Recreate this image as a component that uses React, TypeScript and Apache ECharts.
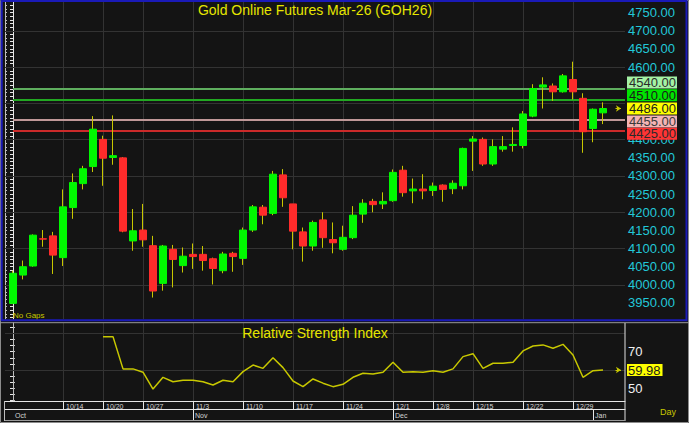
import React, { useEffect, useRef } from "react";
import * as echarts from "echarts";

const dates = [
  "10/7", "10/8", "10/9", "10/10", "10/13", "10/14", "10/15", "10/16", "10/17", "10/20",
  "10/21", "10/22", "10/23", "10/27", "10/28", "10/29", "10/30", "10/31", "11/3", "11/4",
  "11/5", "11/6", "11/7", "11/10", "11/11", "11/12", "11/13", "11/14", "11/17", "11/18",
  "11/19", "11/20", "11/21", "11/24", "11/25", "11/26", "11/27", "11/28", "12/1", "12/2",
  "12/3", "12/4", "12/8", "12/9", "12/10", "12/11", "12/15", "12/16", "12/17", "12/18",
  "12/19", "12/22", "12/23", "12/24", "12/25", "12/26", "12/29", "12/30", "1/2", "1/5",
];

const openP = [
  3949, 4027, 4052, 4127, 4135, 4075, 4213, 4279, 4326, 4401,
  4351, 4350, 4121, 4151, 4108, 4004, 4098, 4053, 4084, 4084,
  4072, 4039, 4087, 4073, 4151, 4214, 4197, 4303, 4223, 4146,
  4107, 4179, 4125, 4098, 4130, 4195, 4230, 4223, 4232, 4316,
  4259, 4264, 4260, 4275, 4265, 4273, 4396, 4401, 4333, 4374,
  4384, 4384, 4465, 4545, 4548, 4532, 4566, 4514, 4431, 4474,
];
const highP = [
  4039, 4067, 4139, 4151, 4146, 4263, 4307, 4328, 4465, 4411,
  4467, 4352, 4209, 4223, 4135, 4110, 4110, 4103, 4114, 4107,
  4075, 4091, 4091, 4158, 4220, 4220, 4314, 4319, 4223, 4158,
  4177, 4200, 4172, 4163, 4217, 4236, 4237, 4255, 4318, 4328,
  4293, 4305, 4282, 4277, 4288, 4378, 4410, 4406, 4401, 4410,
  4434, 4479, 4553, 4572, 4555, 4581, 4615, 4528, 4486, 4503,
];
const lowP = [
  3947, 4015, 4050, 4105, 4030, 4052, 4182, 4263, 4311, 4273,
  4331, 4145, 4094, 4105, 3965, 3984, 3993, 4034, 4044, 4039,
  4001, 4032, 4036, 4055, 4146, 4167, 4192, 4215, 4098, 4064,
  4094, 4102, 4087, 4094, 4126, 4171, 4200, 4209, 4229, 4243,
  4225, 4236, 4245, 4229, 4250, 4263, 4314, 4328, 4328, 4367,
  4367, 4376, 4462, 4486, 4507, 4530, 4511, 4364, 4393, 4443,
];
const closeP = [
  4032, 4050, 4137, 4126, 4082, 4215, 4282, 4320, 4429, 4349,
  4356, 4148, 4149, 4124, 3983, 4107, 4070, 4079, 4078, 4067,
  4045, 4085, 4078, 4151, 4215, 4192, 4305, 4240, 4148, 4107,
  4172, 4130, 4116, 4131, 4192, 4225, 4221, 4230, 4310, 4254,
  4264, 4259, 4272, 4263, 4280, 4376, 4402, 4333, 4381, 4381,
  4387, 4471, 4541, 4551, 4532, 4576, 4532, 4422, 4484, 4486,
];

const rsi = [
  null, null, null, null, null, null, null, null, null, 78.2,
  78.2, 60.6, 60.6, 58.8, 49.6, 56.0, 53.6, 54.4, 54.4, 53.6,
  51.8, 54.4, 53.6, 59.1, 62.7, 60.9, 66.7, 61.3, 54.0, 50.9,
  55.1, 52.8, 50.9, 52.2, 56.0, 58.2, 57.8, 58.8, 64.2, 58.8,
  59.1, 58.8, 59.6, 58.8, 60.6, 67.3, 68.9, 60.9, 63.7, 63.7,
  64.2, 70.4, 73.1, 73.7, 71.9, 74.0, 68.2, 56.0, 59.6, 59.98,
];

// price-axis labels that are visible in the reference (4450/4500/4550 sit under the level boxes)
const priceLabels = [3950, 4000, 4050, 4100, 4150, 4200, 4250, 4300, 4350, 4400, 4600, 4650, 4700, 4750];
const priceGrid = [4000, 4100, 4200, 4300, 4400, 4500, 4600, 4700];
const rsiLabels = [50, 70];
const rsiGrid = [60, 80];
const dateTicks = ["10/14", "10/20", "10/27", "11/3", "11/10", "11/17", "11/24", "12/1", "12/8", "12/15", "12/22", "12/29"];
const monthNames = ["Oct", "Nov", "Dec", "Jan"];
const monthStarts = ["10/7", "11/3", "12/1", "1/2"];
const levelValues = [4540, 4510, 4455, 4425];
const lastPrice = 4486;
const lastRsi = 59.98;

const title = "Gold Online Futures Mar-26 (GOH26)";
const rsiTitle = "Relative Strength Index";

const FONT = 'Arial, "Liberation Sans", Helvetica, sans-serif';

// styles for the level lines (same order as levelValues)
const levelStyles = [
  { line: "#5fae5f", bg: "#a4f2a4", text: "#2a2a2a", shift: -6.4 },
  { line: "#22a822", bg: "#00e400", text: "#1a1a1a", shift: -4.5 },
  { line: "#c09898", bg: "#f4b4b4", text: "#3a3a3a", shift: 1.8 },
  { line: "#cc2a2a", bg: "#ff3434", text: "#2a2a2a", shift: 3.2 },
];

const X_MIN = -0.8;
const X_MAX = 61.2;
const CLEAR = "rgba(0,0,0,0)";

function boxLabel(txt: string, bg: string, color: string, shift: number) {
  const s = Math.abs(shift) * 2;
  let fmt = "{a|" + txt + "}";
  if (shift < 0) fmt = "{a|" + txt + "}\n{s| }";
  if (shift > 0) fmt = "{s| }\n{a|" + txt + "}";
  return {
    show: true,
    position: "end",
    distance: 2,
    opacity: 1,
    formatter: fmt,
    rich: {
      a: {
        backgroundColor: bg,
        color,
        fontSize: 13,
        fontFamily: FONT,
        lineHeight: 12,
        height: 12,
        padding: [0, 1, 0, 2],
      },
      s: { fontSize: 1, height: s, lineHeight: s },
    },
  };
}

export default function App() {
  const ref = useRef<HTMLDivElement>(null);

  useEffect(() => {
    if (!ref.current) return;
    const chart = echarts.init(ref.current, undefined, { renderer: "svg" });

    const tickIdx = dateTicks.map((d) => dates.indexOf(d));
    const monthIdx = monthStarts.map((d) => dates.indexOf(d));
    const priceTicks: number[] = [];
    for (let v = 3910; v <= 4770; v += 10) priceTicks.push(v);
    const rsiTicks: number[] = [];
    for (let k = 0; k < 13; k++) rsiTicks.push(Math.round((43.34 + k * (10 / 3)) * 100) / 100);

    const wickData = dates.map((_, i) => [i, openP[i], closeP[i], lowP[i], highP[i]]);
    const bodyData = dates.map((_, i) => [
      i,
      openP[i],
      closeP[i],
      Math.min(openP[i], closeP[i]),
      Math.max(openP[i], closeP[i]),
    ]);
    const rsiData = rsi
      .map((v, i) => (v == null ? null : [i, v]))
      .filter((d) => d != null);

    const gridLineStyle = { color: "#333333", width: 1, type: "solid" };
    const white = "#e6e6e6";

    const levelLines = levelValues.map((v, k) => [
      {
        coord: [0, v],
        lineStyle: { color: levelStyles[k].line, width: 2, type: "solid" },
        label: boxLabel(v.toFixed(2), levelStyles[k].bg, levelStyles[k].text, levelStyles[k].shift),
      },
      { coord: [X_MAX, v] },
    ]);

    const option: any = {
      animation: false,
      backgroundColor: "#141414",
      grid: [
        { left: 5, top: 2, width: 620, height: 317 },
        { left: 5, top: 323, width: 620, height: 78 },
      ],
      xAxis: [
        { type: "value", gridIndex: 0, min: X_MIN, max: X_MAX, show: false, splitLine: { show: false } },
        {
          type: "value",
          gridIndex: 1,
          min: X_MIN,
          max: X_MAX,
          position: "bottom",
          axisLine: { show: true, lineStyle: { color: white, width: 1 } },
          axisTick: { show: true, customValues: tickIdx, length: 8, lineStyle: { color: white } },
          axisLabel: {
            show: true,
            customValues: tickIdx,
            formatter: (v: number) => dates[Math.round(v)],
            color: "#d4d4d4",
            fontSize: 7,
            fontFamily: FONT,
            align: "left",
            margin: 2,
            padding: [0, 0, 0, 3],
          },
          splitLine: { show: false },
        },
        {
          type: "value",
          gridIndex: 1,
          min: X_MIN,
          max: X_MAX,
          position: "bottom",
          offset: 8.5,
          axisLine: { show: true, lineStyle: { color: white, width: 1 } },
          axisTick: { show: true, customValues: monthIdx.slice(1), length: 11, lineStyle: { color: white } },
          axisLabel: {
            show: true,
            customValues: monthIdx,
            formatter: (v: number) => monthNames[monthIdx.indexOf(Math.round(v))],
            color: "#d4d4d4",
            fontSize: 7,
            fontFamily: FONT,
            align: "left",
            margin: 2.5,
            padding: [0, 0, 0, 2],
          },
          splitLine: { show: false },
        },
      ],
      yAxis: [
        {
          type: "value",
          gridIndex: 0,
          position: "right",
          min: 3905.9,
          max: 4779.5,
          axisLine: { show: true, lineStyle: { color: white, width: 1 } },
          axisTick: { show: true, inside: true, length: 3, customValues: priceTicks, lineStyle: { color: white } },
          axisLabel: {
            show: true,
            customValues: priceLabels,
            formatter: (v: number) => v.toFixed(2),
            color: "#22c8d8",
            fontSize: 13,
            fontFamily: FONT,
            margin: 3,
          },
          splitLine: { show: false },
        },
        {
          type: "value",
          gridIndex: 0,
          position: "left",
          min: 3905.9,
          max: 4779.5,
          axisLine: { show: true, lineStyle: { color: "#bdbdbd", width: 1 } },
          axisTick: { show: true, inside: true, length: 2, customValues: priceTicks, lineStyle: { color: "#bdbdbd" } },
          axisLabel: { show: false },
          splitLine: { show: false },
        },
        {
          type: "value",
          gridIndex: 1,
          position: "right",
          min: 43.07,
          max: 85.65,
          axisLine: { show: true, lineStyle: { color: white, width: 1 } },
          axisTick: { show: true, inside: true, length: 3, customValues: rsiTicks, lineStyle: { color: white } },
          axisLabel: {
            show: true,
            customValues: rsiLabels,
            formatter: (v: number) => String(v),
            color: "#f0f0f0",
            fontSize: 13,
            fontFamily: FONT,
            margin: 3,
          },
          splitLine: { show: false },
        },
        {
          type: "value",
          gridIndex: 1,
          position: "left",
          min: 43.07,
          max: 85.65,
          axisLine: { show: true, lineStyle: { color: "#bdbdbd", width: 1 } },
          axisTick: { show: true, inside: true, length: 2, customValues: rsiTicks, lineStyle: { color: "#bdbdbd" } },
          axisLabel: { show: false },
          splitLine: { show: false },
        },
      ],
      series: [
        {
          type: "line",
          xAxisIndex: 0,
          yAxisIndex: 0,
          data: [],
          z: 1,
          silent: true,
          clip: false,
          markLine: {
            silent: true,
            z: 1,
            symbol: ["none", "none"],
            label: { show: false },
            lineStyle: gridLineStyle,
            data: [
              ...priceGrid.map((v) => ({ yAxis: v })),
              ...tickIdx.map((i) => ({ xAxis: i })),
            ],
          },
        },
        {
          type: "line",
          xAxisIndex: 0,
          yAxisIndex: 0,
          data: [],
          z: 2,
          silent: true,
          clip: false,
          markLine: {
            silent: true,
            z: 2,
            symbol: ["none", "none"],
            data: [
              ...levelLines,
              {
                yAxis: lastPrice,
                lineStyle: { color: CLEAR, width: 1 },
                label: boxLabel(lastPrice.toFixed(2), "#ffff00", "#1a1a1a", 0),
              },
              [
                { coord: [60.25, lastPrice], symbol: "none", lineStyle: { color: "#c8c800", width: 1, type: "solid" }, label: { show: false } },
                { coord: [60.8, lastPrice], symbol: "arrow", symbolSize: 5 },
              ],
            ],
          },
        },
        {
          type: "candlestick",
          xAxisIndex: 0,
          yAxisIndex: 0,
          z: 3,
          barWidth: 1,
          encode: { x: 0, y: [1, 2, 3, 4] },
          data: wickData,
          itemStyle: {
            color: "#c8c800",
            color0: "#c8c800",
            borderColor: "#c8c800",
            borderColor0: "#c8c800",
            borderWidth: 1,
          },
        },
        {
          type: "candlestick",
          xAxisIndex: 0,
          yAxisIndex: 0,
          z: 4,
          barWidth: 7,
          encode: { x: 0, y: [1, 2, 3, 4] },
          data: bodyData,
          itemStyle: {
            color: "#00f800",
            color0: "#ff2b2b",
            borderColor: "#00f800",
            borderColor0: "#ff2b2b",
            borderWidth: 1,
          },
        },
        {
          type: "line",
          xAxisIndex: 1,
          yAxisIndex: 2,
          data: [],
          z: 1,
          silent: true,
          clip: false,
          markLine: {
            silent: true,
            z: 1,
            symbol: ["none", "none"],
            label: { show: false },
            lineStyle: gridLineStyle,
            data: [
              ...rsiGrid.map((v) => ({ yAxis: v })),
              ...tickIdx.map((i) => ({ xAxis: i })),
            ],
          },
        },
        {
          type: "line",
          xAxisIndex: 1,
          yAxisIndex: 2,
          data: rsiData,
          z: 3,
          showSymbol: false,
          symbol: "none",
          lineStyle: { color: "#c8c800", width: 1.5 },
          clip: false,
          markLine: {
            silent: true,
            z: 3,
            symbol: ["none", "none"],
            data: [
              {
                yAxis: lastRsi,
                lineStyle: { color: CLEAR, width: 1 },
                label: {
                  show: true,
                  position: "end",
                  distance: 2,
                  formatter: "{a|" + lastRsi.toFixed(2) + "}",
                  rich: {
                    a: {
                      backgroundColor: "#ffff00",
                      color: "#1a1a1a",
                      fontSize: 13,
                      fontFamily: FONT,
                      lineHeight: 12,
                      height: 12,
                      padding: [0, 2, 0, 1],
                    },
                  },
                },
              },
              [
                { coord: [60.25, lastRsi], symbol: "none", lineStyle: { color: "#c8c800", width: 1, type: "solid" }, label: { show: false } },
                { coord: [60.8, lastRsi], symbol: "arrow", symbolSize: 5 },
              ],
            ],
          },
        },
      ],
      graphic: [
        {
          type: "text",
          x: 315,
          y: 3,
          z: 50,
          silent: true,
          style: { text: title, fill: "#e6e600", font: "14px " + FONT, align: "center", verticalAlign: "top" },
        },
        {
          type: "text",
          x: 315,
          y: 326,
          z: 50,
          silent: true,
          style: { text: rsiTitle, fill: "#e6e600", font: "14px " + FONT, align: "center", verticalAlign: "top" },
        },
        {
          type: "text",
          x: 13,
          y: 311,
          z: 50,
          silent: true,
          style: { text: "No Gaps", fill: "#c8c800", font: "8px " + FONT, align: "left", verticalAlign: "top" },
        },
        {
          type: "text",
          x: 660,
          y: 407,
          z: 50,
          silent: true,
          style: { text: "Day", fill: "#c8c800", font: "9px " + FONT, align: "left", verticalAlign: "top" },
        },
        {
          type: "rect",
          z: 60,
          silent: true,
          shape: { x: 0.5, y: 0.5, width: 688, height: 422 },
          style: { fill: "none", stroke: "#8c8c8c", lineWidth: 1 },
        },
        {
          type: "rect",
          z: 61,
          silent: true,
          shape: { x: 1.7, y: 1, width: 684.8, height: 319.3 },
          style: { fill: "none", stroke: "#1a1ab8", lineWidth: 2 },
        },
        {
          type: "line",
          z: 61,
          silent: true,
          shape: { x1: 0, y1: 322.7, x2: 689, y2: 322.7 },
          style: { stroke: "#9a9a9a", lineWidth: 1 },
        },
        {
          type: "line",
          z: 61,
          silent: true,
          shape: { x1: 625, y1: 323, x2: 625, y2: 421 },
          style: { stroke: "#e0e0e0", lineWidth: 1 },
        },
        {
          type: "line",
          z: 61,
          silent: true,
          shape: { x1: 4.5, y1: 401, x2: 4.5, y2: 421 },
          style: { stroke: "#bdbdbd", lineWidth: 1 },
        },
        {
          type: "line",
          z: 61,
          silent: true,
          shape: { x1: 5, y1: 420.5, x2: 625, y2: 420.5 },
          style: { stroke: "#9a9a9a", lineWidth: 1 },
        },
      ],
    };

    chart.setOption(option);
    return () => {
      chart.dispose();
    };
  }, []);

  return (
    <div
      ref={ref}
      style={{ position: "absolute", left: 0, top: 0, width: 689, height: 423 }}
    />
  );
}
